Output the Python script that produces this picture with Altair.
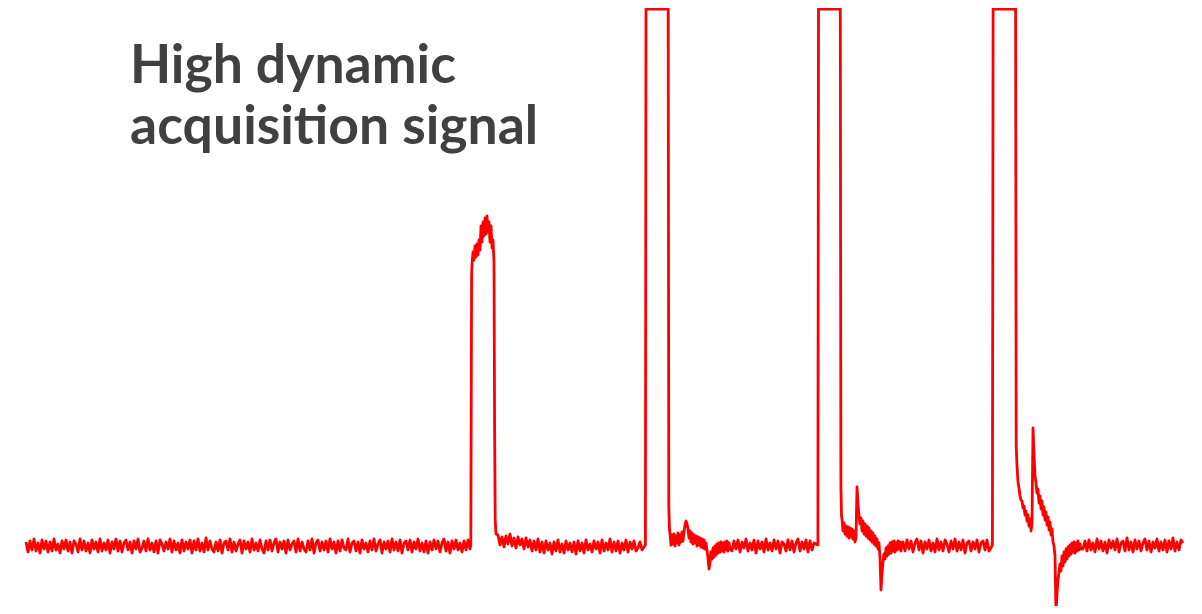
import altair as alt
import pandas as pd

# ---- signal data (time in sample units, amplitude in counts; baseline = 0, saturation = 537) ----
BASE_STEP = 2   # spacing of baseline samples
TAIL_STEP = 1   # spacing of samples after each pulse

base_a_start = 26
base_a = [4, -6, 5, -4, 7, -5, 3, -7, 6, -3, 5, -6, 4, -5, 7, -4, 2, -7, 5, -3,
          6, -5, 4, -7, 5, 2, -6, 7, -4, 5, -5, 3, -7, 6, -3, 4, -6, 7, -5, 3,
          -4, 6, -7, 4, -3, 7, -5, 5, -6, 3, 6, -4, 4, -7, 5, -3, 7, -6, -2, 5,
          -5, 7, -4, 3, -6, 5, -7, 6, 2, -5, 4, -3, 7, -6, 5, -4, 3, -7, 6, -5,
          4, -3, 6, -7, 5, -4, 7, -5, 3, -6, 8, -4, 5, -3, -6, 4, -5, 6, -7, 3,
          5, -4, 7, -6, 4, -5, 2, 6, -7, 5, -3, 4, -6, 7, -4, 3, -5, 6, -3, -7,
          5, -4, 6, -5, 3, 7, -6, 4, -3, 5, -7, 6, -4, 2, 5, -6, 7, -5, 4, -3,
          -6, 5, -4, 7, -7, 3, 6, -5, 4, -4, 5, -6, 7, -3, 4, -7, 5, -5, 6, -2,
          -4, 7, -6, 3, 5, -5, 4, -7, 6, -3, 3, -6, 5, -4, 7, -5, 2, 6, -7, 4,
          -3, 5, -6, 7, -4, 4, -5, 6, -7, 3, 5, -4, 6, -6, 4, -3, 7, -5, 3, -6,
          5, -7, 4, -4, 6, -3, 5, -6, 3, 7, -5, 4, -7, 5, -3, 6, -4, 3, -6, 5,
          -4, 6, -3]

pulse1_t = [470.8, 471.6, 472, 473, 474, 475, 476, 477, 478, 479, 480, 481, 482, 483,
            484, 485, 486, 487, 488, 489, 490, 491, 492, 493, 494, 494.6, 495.2, 496]
pulse1_v = [1, 270, 282, 294, 286, 300, 289, 302, 291, 306, 296, 320, 304, 324,
            310, 328, 312, 330, 314, 324, 304, 320, 298, 306, 284, 120, 26, 12]

base_b_start = 498
base_b = [11, 1, 9, -1, 10, 2, 12, 0, 8, -2, 9, 1, 7, -3, 8, -1, 6, -5, 5, -4,
          7, -6, 4, -7, 5, -4, 3, -8, 4, -5, 6, -6, 2, -7, 5, -4, 3, -6, 4, -8,
          5, -5, 3, -7, 6, -4, 2, -6, 5, -3, 4, -7, 6, -5, 3, -4, 7, -6, 4, -5,
          5, -7, 3, -4, 6, -6, 4, -3, 5, -5, -2, 4, -4]

pulse2_edge_t = [645.4, 646.0, 668.2, 668.8, 669.4]
pulse2_edge_v = [1, 537, 537, 40, 18]
pulse2_tail_start = 670
pulse2_tail = [12, 1, 11, 2, 12, 0, 10, 3, 13, 1, 11, 4, 14, 5,
               14, 21, 25, 22, 17,
               8, 15, 4, 13, 2, 11, 3, 10, 0, 9, 1, 8, -1, 7, -2, 6, -3, 3,
               -4, -12, -23, -16, -6,
               -13, -2, -11, 0, -9, 2, -7, 3, -6, 4, -5, 3, -6, 4, -4, 5, -5, 3, -3]

base_c_start = 732
base_c = [-5, 5, -3, 6, -6, 4, -2, 7, -5, 3, -4, 6, -7, 5, -3, 4, -6, 7, -4, 3,
          -5, 6, -3, 5, -7, 4, 2, -5, 6, -4, 5, -6, 3, 7, -5, 4, -3, 6, -6, 5,
          -4, 3]

pulse3_edge_t = [817.9, 818.5, 840.3, 840.9, 841.5]
pulse3_edge_v = [1, 537, 537, 60, 30]
pulse3_tail_start = 842
pulse3_tail = [27, 15, 23, 12, 20, 10, 19, 8, 18, 9, 17, 7, 15, 4,
               8, 59, 42, 30, 22,
               28, 15, 25, 12, 22, 10, 20, 8, 18, 6, 15, 4, 13, 2, 10, 0, 7, -3, 3,
               -12, -44, -28, -16, -8,
               -13, -2, -10, 0, -8, 3, -7, 4, -5, 5, -6, 3, -4, 5, -3, 4, -5, 2]

base_d_start = 903
base_d = [4, -5, 6, -3, 5, -6, 3, 7, -4, 5, -7, 4, -3, 6, -5, 3, -6, 7, -4, 4,
          -5, 6, 2, -6, 5, -3, 7, -5, 4, -4, 6, -7, 3, 5, -5, 4, -3, 6, -6, 3,
          5, -4, 6, -5]

pulse4_edge_t = [992.4, 993.1, 1015.6, 1016.2]
pulse4_edge_v = [1, 537, 537, 100]
pulse4_tail_start = 1017
pulse4_tail = [80, 64, 58, 50, 46, 45, 38, 40, 31, 35, 25, 31, 20, 27, 15, 22,
               118, 92, 70, 63, 53, 57, 43, 50, 37, 45, 31, 39, 26, 34, 21, 29, 16, 24, 11, 17, 4, 0,
               -10, -67, -48, -34, -26, -18,
               -25, -10, -20, -6, -16, -3, -13, -1, -10, 1, -8, 3, -6, 4, -7, 3, -5, 5, -4, 2, -3]

base_e_start = 1083
base_e = [-3, 5, -5, 6, -4, 3, -6, 7, -3, 5, -5, 4, -7, 6, -2, 5, -4, 7, -6, 3,
          5, -5, 8, -4, 4, -6, 6, -3, 5, -5, 3, 7, -4, 5, -6, 4, -2, 7, -5, 4,
          -4, 6, -6, 5, -3, 8, -5, 4, -4, 6, 3]

title_lines = ["High dynamic", "acquisition signal"]

# ---- assemble the trace ----
def sampled(start, values, step):
    return [start + step * i for i in range(len(values))], list(values)

parts = [
    sampled(base_a_start, base_a, BASE_STEP),
    (pulse1_t, pulse1_v),
    sampled(base_b_start, base_b, BASE_STEP),
    (pulse2_edge_t, pulse2_edge_v),
    sampled(pulse2_tail_start, pulse2_tail, TAIL_STEP),
    sampled(base_c_start, base_c, BASE_STEP),
    (pulse3_edge_t, pulse3_edge_v),
    sampled(pulse3_tail_start, pulse3_tail, TAIL_STEP),
    sampled(base_d_start, base_d, BASE_STEP),
    (pulse4_edge_t, pulse4_edge_v),
    sampled(pulse4_tail_start, pulse4_tail, TAIL_STEP),
    sampled(base_e_start, base_e, BASE_STEP),
]
ts, vs = [], []
for t, v in parts:
    assert len(t) == len(v)
    ts += t
    vs += v
df = pd.DataFrame({"t": ts, "v": vs, "i": range(len(ts))})

line = alt.Chart(df).mark_line(color="#ff0000", strokeWidth=2.8, strokeJoin="round",
                               clip=True).encode(
    x=alt.X("t:Q", axis=None, scale=alt.Scale(domain=[8, 1194], nice=False, zero=False)),
    y=alt.Y("v:Q", axis=None, scale=alt.Scale(domain=[-60, 538], nice=False, zero=False)),
    order="i:O",
)

text_style = dict(font="Lato", fontWeight="bold", fontSize=53.5, color="#404040",
                  align="left", baseline="alphabetic")
t1 = alt.Chart(df.head(1)).mark_text(text=title_lines[0], **text_style).encode(
    x=alt.value(122), y=alt.value(75))
t2 = alt.Chart(df.head(1)).mark_text(text=title_lines[1], **text_style).encode(
    x=alt.value(122), y=alt.value(136))

chart = alt.layer(line, t1, t2).properties(
    width=1186, height=598, padding=0,
    autosize=alt.AutoSizeParams(type="fit", contains="padding"),
).configure_view(strokeWidth=0)

chart.save("out.html", embed_options={"renderer": "svg", "actions": False})
